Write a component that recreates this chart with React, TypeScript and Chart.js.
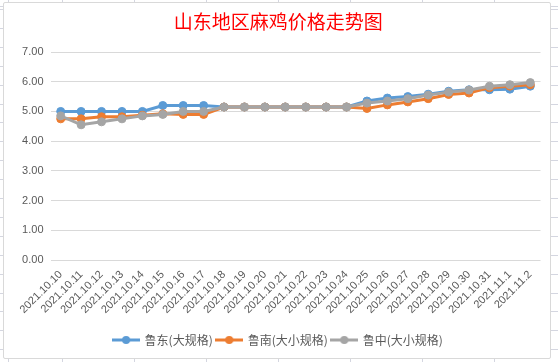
import React, { useEffect, useRef } from "react";
import { Chart, registerables } from "chart.js";

Chart.register(...registerables);

const categories = [
  "2021.10.10", "2021.10.11", "2021.10.12", "2021.10.13", "2021.10.14", "2021.10.15",
  "2021.10.16", "2021.10.17", "2021.10.18", "2021.10.19", "2021.10.20", "2021.10.21",
  "2021.10.22", "2021.10.23", "2021.10.24", "2021.10.25", "2021.10.26", "2021.10.27",
  "2021.10.28", "2021.10.29", "2021.10.30", "2021.10.31", "2021.11.1", "2021.11.2",
];

const luDong = [
  5.0, 5.0, 5.0, 5.0, 5.0, 5.2, 5.2, 5.2, 5.15, 5.15, 5.15, 5.15,
  5.15, 5.15, 5.15, 5.35, 5.45, 5.5, 5.58, 5.68, 5.73, 5.73, 5.75, 5.85,
];
const luNan = [
  4.75, 4.75, 4.82, 4.82, 4.87, 4.92, 4.9, 4.9, 5.15, 5.15, 5.15, 5.15,
  5.15, 5.15, 5.15, 5.1, 5.22, 5.32, 5.43, 5.57, 5.62, 5.8, 5.85, 5.9,
];
const luZhong = [
  4.85, 4.55, 4.65, 4.75, 4.85, 4.9, 5.0, 5.0, 5.15, 5.15, 5.15, 5.15,
  5.15, 5.15, 5.15, 5.28, 5.35, 5.43, 5.55, 5.65, 5.72, 5.85, 5.9, 5.97,
];

const seriesNames = ["鲁东(大规格)", "鲁南(大小规格)", "鲁中(大小规格)"];
const seriesColors = ["#5B9BD5", "#ED7D31", "#A5A5A5"];
const yTicks = [0, 1, 2, 3, 4, 5, 6, 7];

const FONT = "'Noto Sans CJK SC', 'Noto Sans', sans-serif";
const NUM_FONT = "'Liberation Sans', Arial, sans-serif";

function makeMarker(color: string): HTMLCanvasElement {
  const c = document.createElement("canvas");
  c.width = 28;
  c.height = 10;
  const ctx = c.getContext("2d")!;
  ctx.strokeStyle = color;
  ctx.lineWidth = 3;
  ctx.beginPath();
  ctx.moveTo(0, 5);
  ctx.lineTo(28, 5);
  ctx.stroke();
  ctx.fillStyle = color;
  ctx.beginPath();
  ctx.arc(14, 5, 4, 0, Math.PI * 2);
  ctx.fill();
  return c;
}

export default function App() {
  const ref = useRef<HTMLCanvasElement | null>(null);

  useEffect(() => {
    document.body.style.margin = "0";
    const canvas = ref.current!;
    const values = [luDong, luNan, luZhong];
    const markers = seriesColors.map(makeMarker);
    const chart = new Chart(canvas, {
      type: "line",
      data: {
        labels: categories,
        datasets: values.map((v, i) => ({
          label: seriesNames[i],
          data: v,
          borderColor: seriesColors[i],
          backgroundColor: seriesColors[i],
          pointBackgroundColor: seriesColors[i],
          pointBorderColor: seriesColors[i],
          borderWidth: 3,
          pointRadius: 4,
          pointBorderWidth: 1,
          tension: 0,
          order: 2 - i,
        })),
      },
      options: {
        responsive: false,
        animation: false,
        layout: { padding: { left: 12, right: 9.5, top: 0, bottom: 2 } },
        plugins: {
          title: {
            display: true,
            text: "山东地区麻鸡价格走势图",
            color: "#FF0000",
            font: { family: FONT, size: 19, weight: "normal" },
            padding: { top: 7, bottom: 19.2 },
          },
          legend: {
            position: "bottom",
            labels: {
              color: "#595959",
              font: { family: FONT, size: 12 },
              usePointStyle: true,
              pointStyleWidth: 25,
              padding: 4,
              generateLabels: (ch: any) =>
                ch.data.datasets.map((ds: any, i: number) => ({
                  text: ds.label,
                  fillStyle: seriesColors[i],
                  strokeStyle: seriesColors[i],
                  lineWidth: 0,
                  pointStyle: markers[i],
                  datasetIndex: i,
                  hidden: false,
                  fontColor: "#595959",
                })),
            },
          },
          tooltip: { enabled: false },
        },
        scales: {
          x: {
            type: "category",
            offset: true,
            grid: { display: false, drawTicks: false },
            border: { display: false },
            ticks: {
              color: "#595959",
              font: { family: NUM_FONT, size: 11 },
              minRotation: 45,
              maxRotation: 45,
              autoSkip: false,
              padding: 8,
            },
            afterFit: (s: any) => {
              s.height = 70;
            },
          },
          y: {
            min: 0,
            max: 7,
            afterBuildTicks: (s: any) => {
              s.ticks = yTicks.map((v) => ({ value: v }));
            },
            grid: { color: "#D9D9D9", lineWidth: 1, drawTicks: false },
            border: { display: false },
            ticks: {
              color: "#595959",
              font: { family: NUM_FONT, size: 11 },
              padding: 7,
              callback: (v: any) => Number(v).toFixed(2),
            },
            afterFit: (s: any) => {
              s.width = 34.5;
            },
          },
        },
      },
    });
    return () => chart.destroy();
  }, []);

  return (
    <div
      style={{
        position: "relative",
        width: 558,
        height: 362,
        background: "#fff",
        backgroundImage:
          "repeating-linear-gradient(to bottom, #D4D6E0 0px, #D4D6E0 1px, transparent 1px, transparent 18.9px), repeating-linear-gradient(to right, #D4D6E0 0px, #D4D6E0 1px, transparent 1px, transparent 72px)",
        backgroundPosition: "0 9px, 62px 0",
        overflow: "hidden",
      }}
    >
      <div
        style={{
          position: "absolute",
          left: 3,
          top: 2,
          width: 548,
          height: 357,
          boxSizing: "border-box",
          border: "1px solid #D9D9D9",
          borderRadius: 2,
          background: "#fff",
        }}
      >
        <canvas
          ref={ref}
          width={546}
          height={355}
          style={{ position: "absolute", left: 0, top: 0, width: 546, height: 355 }}
        />
      </div>
    </div>
  );
}
